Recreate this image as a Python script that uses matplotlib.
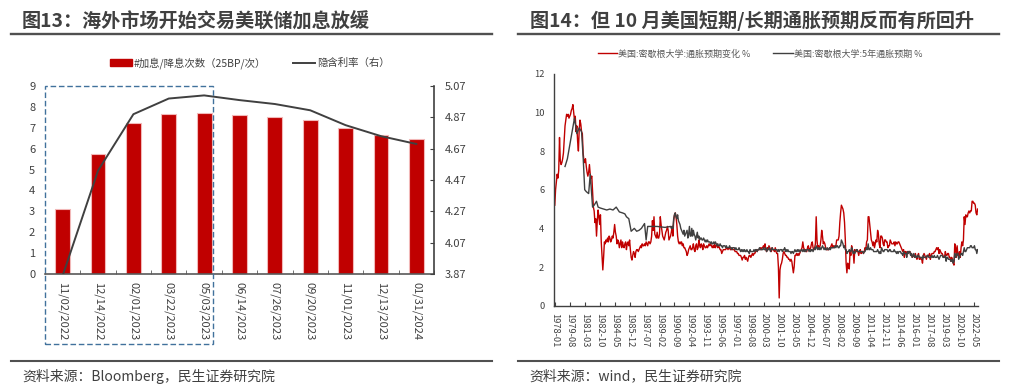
import numpy as np
import pandas as pd
import matplotlib.pyplot as plt
from matplotlib.patches import Rectangle
from matplotlib.lines import Line2D

plt.rcParams['font.family'] = ['Noto Sans CJK SC', 'DejaVu Sans']

# ---- 图13 数据 ----
dates = ['11/02/2022', '12/14/2022', '02/01/2023', '03/22/2023', '05/03/2023', '06/14/2023',
         '07/26/2023', '09/20/2023', '11/01/2023', '12/13/2023', '01/31/2024']
hikes = [3.12, 5.73, 7.22, 7.64, 7.69, 7.62, 7.50, 7.35, 6.97, 6.67, 6.46]
rate = [3.86, 4.53, 4.89, 4.99, 5.01, 4.98, 4.955, 4.915, 4.82, 4.75, 4.70]
rate_ticks = [3.87, 4.07, 4.27, 4.47, 4.67, 4.87, 5.07]

# ---- 图14 数据 (月度 1978-01 ~ 2022-10) ----
months = pd.period_range('1978-01', '2022-10', freq='M')

red = [
    5.2, 6.0, 6.4, 6.8, 6.6, 7.0, 8.7, 7.5, 7.3, 7.4, 7.6, 7.9,   # 1978
    8.6, 9.3, 9.6, 9.9, 9.8, 9.9, 9.7, 9.8, 9.9, 10.1, 10.2, 10.4,  # 1979
    10.0, 9.6, 9.8, 9.0, 9.3, 8.5, 8.0, 9.1, 9.6, 9.4, 9.0, 8.9,  # 1980
    7.9, 7.5, 7.4, 7.6, 7.2, 6.9, 6.7, 6.9, 7.3, 6.8, 6.6, 6.7,   # 1981
    5.9, 5.1, 4.9, 4.3, 4.5, 3.6, 4.4, 4.95, 4.6, 4.2, 4.7, 3.3,  # 1982
    2.6, 1.85, 2.5, 3.3, 3.2, 3.4, 3.3, 3.5, 3.3, 3.6, 3.5, 3.3,  # 1983
    3.4, 3.6, 3.5, 3.8, 4.2, 3.8, 3.6, 3.2, 3.4, 3.3, 3.0, 3.2,   # 1984
    3.4, 3.0, 3.3, 3.1, 3.0, 3.2, 3.3, 2.9, 3.2, 3.3, 3.1, 3.4,   # 1985
    2.9, 2.5, 2.36, 2.6, 2.8, 2.7, 2.5, 2.8, 2.9, 2.9, 2.8, 2.9,  # 1986
    3.0, 3.1, 3.0, 3.2, 3.1, 3.1, 3.2, 3.1, 3.3, 3.2, 3.1, 3.3,   # 1987
    3.3, 3.2, 3.3, 3.6, 4.4, 3.9, 4.6, 3.7, 3.6, 3.5, 3.8, 3.5,   # 1988
    3.5, 3.7, 4.6, 4.2, 3.9, 3.6, 3.5, 3.4, 3.6, 3.8, 3.9, 4.1,   # 1989
    3.9, 3.4, 3.5, 3.6, 3.8, 4.1, 3.6, 4.4, 4.7, 4.8, 4.6, 4.2,   # 1990
    3.6, 3.3, 3.2, 3.3, 3.2, 3.3, 3.1, 3.2, 3.0, 3.0, 2.9, 2.8,   # 1991
    2.6, 2.7, 2.9, 3.0, 3.1, 2.9, 2.9, 3.0, 3.2, 2.9, 2.8, 3.1,   # 1992
    3.2, 2.9, 3.0, 3.4, 3.1, 3.0, 3.2, 3.1, 2.9, 3.2, 3.1, 3.0,   # 1993
    3.0, 3.1, 3.0, 3.1, 3.2, 3.1, 3.2, 3.1, 3.0, 3.1, 3.0, 3.2,   # 1994
    3.0, 3.1, 3.2, 3.0, 3.1, 3.0, 2.9, 2.9, 2.7, 2.8, 2.9, 2.9,   # 1995
    2.9, 2.9, 3.0, 3.0, 2.9, 3.0, 3.0, 2.9, 2.9, 3.0, 2.9, 2.9,   # 1996
    2.9, 2.8, 2.8, 2.8, 2.7, 2.7, 2.6, 2.6, 2.6, 2.5, 2.36, 2.5,  # 1997
    2.5, 2.6, 2.4, 2.5, 2.4, 2.3, 2.5, 2.6, 2.6, 2.5, 2.6, 2.7,   # 1998
    2.6, 2.7, 2.7, 2.8, 2.9, 2.8, 2.9, 2.9, 2.9, 3.0, 2.9, 3.0,   # 1999
    3.0, 3.1, 3.0, 3.2, 2.9, 2.8, 3.0, 2.9, 3.1, 3.0, 2.9, 2.8,   # 2000
    3.0, 2.9, 2.9, 2.8, 3.0, 2.8, 2.7, 2.7, 2.0, 0.4, 1.85, 2.1,  # 2001
    2.2, 2.4, 2.7, 2.8, 2.7, 2.6, 2.6, 2.5, 2.5, 2.4, 2.4, 2.3,   # 2002
    2.4, 2.3, 2.0, 1.7, 2.0, 2.6, 2.6, 2.7, 2.6, 2.7, 2.6, 2.7,   # 2003
    2.8, 2.9, 3.0, 3.3, 3.0, 2.9, 2.9, 2.8, 2.8, 3.0, 3.1, 2.9,   # 2004
    2.9, 3.0, 3.2, 3.3, 3.0, 2.9, 3.0, 3.2, 4.6, 3.4, 3.0, 3.1,   # 2005
    3.0, 3.1, 3.4, 3.9, 3.6, 3.2, 3.3, 3.2, 3.0, 2.9, 2.9, 2.9,   # 2006
    2.9, 3.0, 3.0, 3.1, 3.2, 3.0, 3.1, 3.0, 3.1, 3.1, 3.4, 3.4,   # 2007
    3.4, 3.6, 4.3, 4.8, 5.2, 5.1, 5.0, 4.8, 4.3, 3.4, 2.2, 1.7,   # 2008
    2.2, 2.0, 1.9, 2.8, 2.6, 3.1, 2.9, 2.8, 2.2, 2.9, 2.8, 2.8,   # 2009
    2.9, 2.8, 2.6, 2.8, 2.9, 2.7, 2.8, 2.8, 2.7, 2.8, 3.0, 2.9,   # 2010
    3.3, 3.4, 4.6, 4.6, 4.2, 3.8, 3.4, 3.3, 3.1, 3.3, 3.0, 3.2,   # 2011
    3.4, 3.3, 3.9, 3.7, 3.2, 3.0, 3.6, 3.6, 3.5, 3.2, 3.1, 3.4,   # 2012
    3.4, 3.3, 3.3, 3.0, 3.1, 3.1, 3.4, 3.3, 3.2, 3.2, 3.2, 3.3,   # 2013
    3.1, 3.3, 3.2, 3.2, 3.3, 3.3, 3.2, 3.1, 3.0, 2.9, 2.8, 2.9,   # 2014
    2.5, 2.8, 2.8, 2.6, 2.8, 2.8, 2.8, 2.8, 2.6, 2.7, 2.5, 2.6,   # 2015
    2.6, 2.5, 2.7, 2.5, 2.4, 2.6, 2.7, 2.4, 2.5, 2.4, 2.4, 2.2,   # 2016
    2.6, 2.7, 2.6, 2.5, 2.4, 2.6, 2.6, 2.6, 2.7, 2.4, 2.6, 2.7,   # 2017
    2.7, 2.7, 2.8, 2.8, 2.9, 3.0, 2.9, 3.0, 2.7, 2.9, 2.8, 2.7,   # 2018
    2.7, 2.6, 2.5, 2.5, 2.8, 2.6, 2.6, 2.7, 2.7, 2.5, 2.5, 2.3,   # 2019
    2.5, 2.4, 2.2, 2.1, 3.2, 3.0, 2.5, 3.1, 2.6, 2.6, 2.8, 2.5,   # 2020
    3.0, 3.3, 3.1, 3.4, 4.6, 4.2, 4.7, 4.6, 4.6, 4.8, 4.9, 4.8,   # 2021
    4.9, 4.9, 5.4, 5.4, 5.3, 5.3, 5.2, 4.8, 4.7, 5.0,             # 2022
]

# 5年通胀预期: 1990-04 之前为不连续调查
gray_early_dates = ['1979-02', '1979-05', '1979-08', '1979-11', '1980-02', '1980-05', '1980-08',
                    '1980-11', '1981-01', '1981-03', '1981-05', '1981-08', '1981-10', '1982-01',
                    '1982-03', '1982-06', '1982-08', '1982-11', '1983-03', '1983-07', '1983-11',
                    '1984-03', '1984-07', '1984-11', '1985-03', '1985-06', '1985-08', '1985-11',
                    '1986-02', '1986-06', '1986-09', '1986-12', '1987-03', '1987-07', '1987-09',
                    '1987-11', '1988-11', '1989-09']
gray_early = [7.2, 7.6, 8.3, 9.0, 9.7, 8.9, 9.2, 9.0, 7.7, 6.0, 5.9, 5.8, 6.8, 5.1,
              5.2, 5.4, 5.1, 5.05, 5.0, 4.95, 5.0, 4.95, 5.1, 4.85, 4.8, 4.75, 4.6, 4.5,
              3.85, 4.0, 3.85, 3.9, 4.0, 4.25, 3.4, 4.1, 4.1, 4.05]

gray_monthly_start = '1990-04'
gray_monthly = [
    4.1, 4.0, 4.1, 4.0, 4.5, 4.7, 4.8, 4.6, 4.5,                  # 1990 (4-12)
    4.7, 4.4, 4.3, 4.2, 4.0, 3.9, 3.8, 3.7, 3.9, 3.6, 3.7, 3.8,   # 1991
    3.9, 3.5, 3.7, 4.1, 3.6, 3.6, 4.0, 3.6, 3.9, 3.7, 3.6, 3.4,   # 1992
    3.6, 3.8, 3.5, 3.6, 3.4, 3.5, 3.5, 3.4, 3.4, 3.5, 3.4, 3.3,   # 1993
    3.4, 3.3, 3.4, 3.3, 3.3, 3.3, 3.2, 3.3, 3.2, 3.2, 3.3, 3.2,   # 1994
    3.3, 3.2, 3.1, 3.2, 3.1, 3.1, 3.2, 3.1, 3.1, 3.0, 3.1, 3.1,   # 1995
    3.1, 3.0, 3.1, 3.0, 3.0, 3.0, 3.1, 3.0, 3.0, 2.9, 3.0, 3.0,   # 1996
    3.0, 2.9, 3.0, 2.9, 2.9, 2.9, 3.0, 2.9, 2.8, 2.9, 2.8, 2.9,   # 1997
    2.8, 2.9, 2.8, 2.8, 2.9, 2.8, 2.8, 2.7, 2.9, 2.8, 2.8, 2.8,   # 1998
    2.8, 2.9, 2.8, 2.9, 2.9, 2.8, 2.9, 2.9, 3.0, 2.9, 2.9, 2.9,   # 1999
    2.9, 3.0, 2.9, 2.9, 3.0, 2.8, 2.9, 2.9, 3.0, 2.9, 2.8, 2.9,   # 2000
    3.0, 2.9, 2.9, 2.9, 2.9, 2.9, 2.9, 2.8, 2.9, 2.8, 2.9, 2.9,   # 2001
    2.9, 2.8, 2.9, 2.9, 3.0, 2.8, 2.9, 2.8, 2.9, 2.8, 2.8, 2.8,   # 2002
    2.7, 2.8, 2.8, 2.7, 2.8, 2.9, 2.8, 2.8, 2.9, 2.8, 2.9, 2.8,   # 2003
    2.8, 2.9, 2.9, 2.8, 2.9, 2.8, 2.9, 2.8, 2.9, 2.9, 2.9, 2.8,   # 2004
    2.9, 2.8, 2.9, 2.9, 2.8, 2.9, 3.0, 2.9, 3.1, 3.0, 2.9, 3.0,   # 2005
    2.9, 3.0, 2.9, 3.0, 3.1, 3.0, 2.9, 3.0, 2.9, 2.9, 3.0, 2.9,   # 2006
    2.9, 3.0, 2.9, 3.0, 3.0, 3.0, 3.0, 3.0, 3.1, 3.0, 3.1, 3.1,   # 2007
    3.0, 3.0, 3.1, 3.1, 3.4, 3.3, 3.2, 3.0, 3.1, 2.9, 2.9, 2.7,   # 2008
    2.8, 2.8, 2.9, 2.8, 2.8, 3.0, 2.9, 2.7, 2.8, 2.7, 2.8, 2.9,   # 2009
    2.9, 2.8, 2.8, 2.8, 2.8, 2.8, 2.8, 2.8, 2.7, 2.8, 2.8, 2.9,   # 2010
    3.0, 2.9, 3.2, 2.9, 2.9, 3.0, 2.9, 2.9, 2.9, 2.8, 2.8, 2.8,   # 2011
    2.8, 2.8, 2.9, 2.8, 2.7, 2.8, 2.7, 3.0, 2.9, 2.8, 2.8, 2.9,   # 2012
    2.9, 2.9, 2.9, 2.8, 2.8, 2.9, 2.9, 2.8, 2.8, 2.8, 2.8, 2.9,   # 2013
    2.8, 2.8, 2.7, 2.8, 2.7, 2.8, 2.8, 2.8, 2.7, 2.7, 2.6, 2.8,   # 2014
    2.7, 2.7, 2.7, 2.5, 2.8, 2.7, 2.8, 2.8, 2.6, 2.7, 2.5, 2.6,   # 2015
    2.7, 2.5, 2.6, 2.5, 2.5, 2.6, 2.6, 2.5, 2.5, 2.5, 2.5, 2.4,   # 2016
    2.6, 2.5, 2.5, 2.5, 2.5, 2.6, 2.6, 2.5, 2.5, 2.5, 2.5, 2.6,   # 2017
    2.5, 2.5, 2.6, 2.5, 2.5, 2.5, 2.6, 2.5, 2.4, 2.5, 2.6, 2.6,   # 2018
    2.6, 2.5, 2.5, 2.5, 2.6, 2.3, 2.5, 2.5, 2.4, 2.4, 2.4, 2.3,   # 2019
    2.3, 2.4, 2.2, 2.3, 2.7, 2.5, 2.6, 2.7, 2.7, 2.4, 2.5, 2.6,   # 2020
    2.7, 2.7, 2.6, 2.8, 3.0, 2.8, 2.8, 2.9, 3.0, 3.0, 3.0, 3.0,   # 2021
    3.1, 3.1, 3.0, 3.0, 3.0, 3.1, 2.9, 2.9, 2.7, 2.9,             # 2022
]

text_c = '#404040'
W, H = 1009, 390
fig = plt.figure(figsize=(W / 100, H / 100), dpi=100)

# ---------------- 左图 ----------------
ax1 = fig.add_axes([45 / W, 1 - 274 / H, 389 / W, 188 / H])
x = np.arange(len(dates))
ax1.bar(x, hikes, width=0.42, color='#C00000', edgecolor='#F2B8B8', linewidth=0.8)
ax1.set_xlim(-0.5, len(dates) - 0.5)
ax1.set_ylim(0, 9)
ax1.set_yticks(range(10))
ax1.set_xticks(x)
ax1.set_xticklabels(dates, rotation=-90)
ax1.set_xticks(np.arange(-0.5, len(dates), 1), minor=True)
ax1.tick_params(axis='x', which='major', length=0, pad=6, labelsize=8, labelcolor=text_c)
ax1.tick_params(axis='x', which='minor', length=3, direction='in', color='#595959')
ax1.tick_params(axis='y', length=0, pad=7, labelsize=8, labelcolor=text_c)
for s in ['top', 'left', 'right']:
    ax1.spines[s].set_visible(False)
ax1.spines['bottom'].set_color('#595959')
ax1.spines['bottom'].set_linewidth(1.2)

ax2 = ax1.twinx()
ax2.plot(x, rate, color='#404040', lw=1.4)
ax2.set_ylim(3.87, 5.07)
ax2.set_yticks(rate_ticks)
ax2.set_yticklabels([f'{v:.2f}' for v in rate_ticks])
ax2.tick_params(axis='y', direction='in', length=3, pad=7.5, labelsize=8,
                labelcolor=text_c, color='#404040')
for s in ['top', 'left', 'bottom']:
    ax2.spines[s].set_visible(False)
ax2.spines['right'].set_color('#404040')
ax2.spines['right'].set_linewidth(1.2)

h1 = [Rectangle((0, 0), 1, 1, color='#C00000'), Line2D([], [], color='#404040', lw=1.4)]
fig.legend(h1, ['#加息/降息次数（25BP/次）', '隐含利率（右）'], loc='center',
           bbox_to_anchor=(250 / W, 1 - 63 / H), ncol=2, frameon=False, fontsize=7.5,
           handlelength=2.1, handleheight=0.7, handletextpad=0.2, columnspacing=2.6,
           labelcolor=text_c)

fig.add_artist(Rectangle((44.5 / W, 1 - 343.5 / H), 168.5 / W, 257.5 / H,
                         transform=fig.transFigure, fill=False, ls=(0, (4, 2)),
                         lw=1.0, ec='#41719C'))

# ---------------- 右图 ----------------
ax3 = fig.add_axes([554 / W, 1 - 305.7 / H, 424 / W, 232 / H])
xm = np.arange(len(months))
ax3.plot(xm, red, color='#C00000', lw=1.0)
gx = [months.get_loc(pd.Period(d, 'M')) for d in gray_early_dates]
g0 = months.get_loc(pd.Period(gray_monthly_start, 'M'))
gx = gx + list(range(g0, g0 + len(gray_monthly)))
ax3.plot(gx, gray_early + gray_monthly, color='#404040', lw=1.0)
ax3.set_xlim(-1, len(months) - 0.5)
ax3.set_ylim(0, 12)
ax3.set_yticks(range(0, 13, 2))
tk = list(range(0, len(months), 19))
ax3.set_xticks(tk)
ax3.set_xticklabels([months[i].strftime('%Y-%m') for i in tk], rotation=-90)
ax3.tick_params(axis='x', direction='in', length=3, pad=5, labelsize=6.7,
                labelcolor=text_c, color='#404040')
ax3.tick_params(axis='y', length=0, pad=7, labelsize=6.7, labelcolor=text_c)
for s in ['top', 'right']:
    ax3.spines[s].set_visible(False)
for s in ['left', 'bottom']:
    ax3.spines[s].set_color('#404040')
    ax3.spines[s].set_linewidth(1.0)

h2 = [Line2D([], [], color='#C00000', lw=1.0), Line2D([], [], color='#404040', lw=1.0)]
fig.legend(h2, ['美国:密歇根大学:通胀预期变化 %', '美国:密歇根大学:5年通胀预期 %'], loc='center',
           bbox_to_anchor=(760 / W, 1 - 54 / H), ncol=2, frameon=False, fontsize=6.5,
           handlelength=2.2, handletextpad=0.1, columnspacing=2.5, labelcolor='#595959')

# ---------------- 标题 / 来源 ----------------
fig.text(22 / W, 1 - 21 / H, '图13：海外市场开始交易美联储加息放缓', fontsize=13.8,
         fontweight='bold', color=text_c, va='center', ha='left')
fig.text(530 / W, 1 - 21 / H, '图14：但 10 月美国短期/长期通胀预期反而有所回升', fontsize=13.8,
         fontweight='bold', color=text_c, va='center', ha='left')
for x0, x1 in [(11, 492), (518, 999)]:
    fig.add_artist(Line2D([x0 / W, x1 / W], [1 - 33.5 / H] * 2, color='#505050', lw=1.7))
    fig.add_artist(Line2D([x0 / W, x1 / W], [1 - 361 / H] * 2, color='#505050', lw=1.5))
fig.text(22 / W, 1 - 376 / H, '资料来源：Bloomberg，民生证券研究院', fontsize=10,
         color=text_c, va='center', ha='left')
fig.text(529 / W, 1 - 376 / H, '资料来源：wind，民生证券研究院', fontsize=10,
         color=text_c, va='center', ha='left')

fig.savefig('out.png', dpi=100)
